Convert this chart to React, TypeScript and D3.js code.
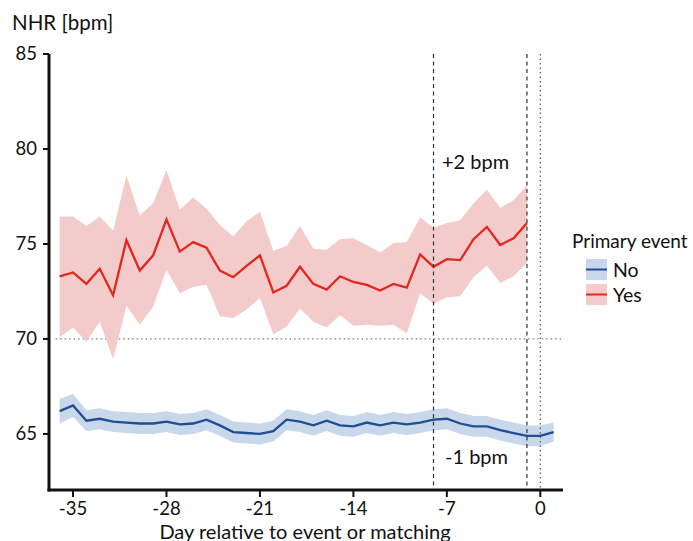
import React from 'react'
import * as d3 from 'd3'

// days for each series
const daysYes = d3.range(-36, 0)
const daysNo = d3.range(-36, 2)

const yesMean = [73.3, 73.5, 72.9, 73.7, 72.3, 75.2, 73.6, 74.4, 76.3, 74.6, 75.1, 74.8, 73.6, 73.25, 73.85, 74.4, 72.45, 72.8, 73.8, 72.9, 72.6, 73.3, 73.0, 72.85, 72.55, 72.9, 72.7, 74.45, 73.8, 74.2, 74.15, 75.25, 75.9, 74.95, 75.3, 76.1]
const yesUpper = [76.45, 76.45, 75.95, 76.45, 75.7, 78.6, 76.5, 77.15, 78.9, 76.8, 77.45, 76.85, 76.0, 75.4, 76.2, 76.7, 74.65, 74.9, 75.95, 74.75, 74.7, 75.25, 75.3, 74.95, 74.55, 75.05, 75.1, 76.4, 75.85, 76.1, 76.25, 77.15, 77.85, 76.9, 77.3, 78.1]
const yesLower = [70.1, 70.6, 69.85, 70.9, 68.95, 71.75, 70.75, 71.7, 73.65, 72.4, 72.75, 72.85, 71.2, 71.1, 71.55, 72.15, 70.25, 70.65, 71.6, 70.9, 70.6, 71.25, 70.7, 70.75, 70.7, 70.75, 70.3, 72.4, 71.85, 72.2, 72.25, 73.25, 73.85, 72.95, 73.3, 74.0]

const noMean = [66.2, 66.5, 65.7, 65.8, 65.65, 65.6, 65.55, 65.55, 65.65, 65.5, 65.55, 65.75, 65.45, 65.1, 65.05, 65.0, 65.15, 65.75, 65.65, 65.45, 65.7, 65.45, 65.4, 65.6, 65.45, 65.6, 65.5, 65.6, 65.75, 65.8, 65.55, 65.4, 65.4, 65.2, 65.05, 64.9, 64.9, 65.1]
const noHalf = [0.65, 0.6, 0.55, 0.55, 0.55, 0.55, 0.55, 0.55, 0.55, 0.55, 0.55, 0.55, 0.55, 0.55, 0.55, 0.55, 0.55, 0.55, 0.55, 0.55, 0.55, 0.55, 0.55, 0.55, 0.55, 0.55, 0.55, 0.55, 0.55, 0.55, 0.55, 0.55, 0.55, 0.55, 0.55, 0.55, 0.55, 0.5]

const xTicks = [-35, -28, -21, -14, -7, 0]
const yTicks = [65, 70, 75, 80, 85]
const dashedDays = [-8, -1]
const legendItems = ['No', 'Yes']

const width = 693
const height = 541
const font = 'Lato, "Open Sans", sans-serif'

export default function App() {
  const x = d3.scaleLinear().domain([-36.8, 1.7]).range([49, 563])
  const y = d3.scaleLinear().domain([62.05, 85]).range([490, 54])

  const yesRows = daysYes.map((d, i) => ({ d, m: yesMean[i], lo: yesLower[i], hi: yesUpper[i] }))
  const noRows = daysNo.map((d, i) => ({ d, m: noMean[i], lo: noMean[i] - noHalf[i], hi: noMean[i] + noHalf[i] }))

  const area = d3
    .area<any>()
    .x(r => x(r.d))
    .y0(r => y(r.lo))
    .y1(r => y(r.hi))
  const line = d3
    .line<any>()
    .x(r => x(r.d))
    .y(r => y(r.m))

  const colors = {
    No: { line: '#1f4e94', band: '#c8d7e9' },
    Yes: { line: '#e3261f', band: '#f4cbcb' }
  }

  return (
    <svg width={width} height={height} style={{ position: 'absolute', left: 0, top: 0 }}>
      <rect width={width} height={height} fill="#fff" />

      {/* reference lines */}
      <line x1={x(-36.3)} x2={x(1.7)} y1={y(70)} y2={y(70)} stroke="#777" strokeWidth={1.2} strokeDasharray="1.5,3" />

      <path d={area(yesRows) || ''} fill={colors.Yes.band} />
      <path d={area(noRows) || ''} fill={colors.No.band} />
      <path d={line(yesRows) || ''} fill="none" stroke={colors.Yes.line} strokeWidth={2.3} />
      <path d={line(noRows) || ''} fill="none" stroke={colors.No.line} strokeWidth={2.3} />

      {dashedDays.map(d => (
        <line key={d} x1={x(d)} x2={x(d)} y1={y(85)} y2={y(62.05)} stroke="#333" strokeWidth={1.2} strokeDasharray="4,3.5" />
      ))}
      <line x1={x(0)} x2={x(0)} y1={y(85)} y2={y(62.05)} stroke="#555" strokeWidth={1.2} strokeDasharray="1.5,3" />

      <text x={442} y={169} fontFamily={font} fontSize={20} fill="#111">+2 bpm</text>
      <text x={445} y={464} fontFamily={font} fontSize={20} fill="#111">-1 bpm</text>

      {/* y axis */}
      <line x1={49} x2={49} y1={y(85)} y2={491.5} stroke="#111" strokeWidth={3} />
      {yTicks.map(t => (
        <g key={t}>
          <line x1={43} x2={49} y1={y(t)} y2={y(t)} stroke="#111" strokeWidth={2} />
          <text x={37} y={y(t)} dy="0.35em" textAnchor="end" fontFamily={font} fontSize={18.5} fill="#111">{t}</text>
        </g>
      ))}
      <text x={12} y={30} fontFamily={font} fontSize={20.5} fill="#111">NHR [bpm]</text>

      {/* x axis */}
      <line x1={47.5} x2={563} y1={490} y2={490} stroke="#111" strokeWidth={3} />
      {xTicks.map(t => (
        <g key={t}>
          <line x1={x(t)} x2={x(t)} y1={490} y2={497} stroke="#111" strokeWidth={2} />
          <text x={x(t)} y={515} textAnchor="middle" fontFamily={font} fontSize={18.5} fill="#111">{t}</text>
        </g>
      ))}
      <text x={305} y={539} textAnchor="middle" fontFamily={font} fontSize={20} fill="#111">Day relative to event or matching</text>

      {/* legend */}
      <text x={572} y={248} fontFamily={font} fontSize={19} fill="#111">Primary event</text>
      {legendItems.map((k, i) => (
        <g key={k} transform={`translate(586, ${259 + i * 25})`}>
          <rect width={21} height={21} fill={colors[k as 'No' | 'Yes'].band} />
          <line x1={0} x2={21} y1={10.5} y2={10.5} stroke={colors[k as 'No' | 'Yes'].line} strokeWidth={2} />
          <text x={27} y={10.5} dy="0.36em" fontFamily={font} fontSize={19.5} fill="#111">{k}</text>
        </g>
      ))}
    </svg>
  )
}
